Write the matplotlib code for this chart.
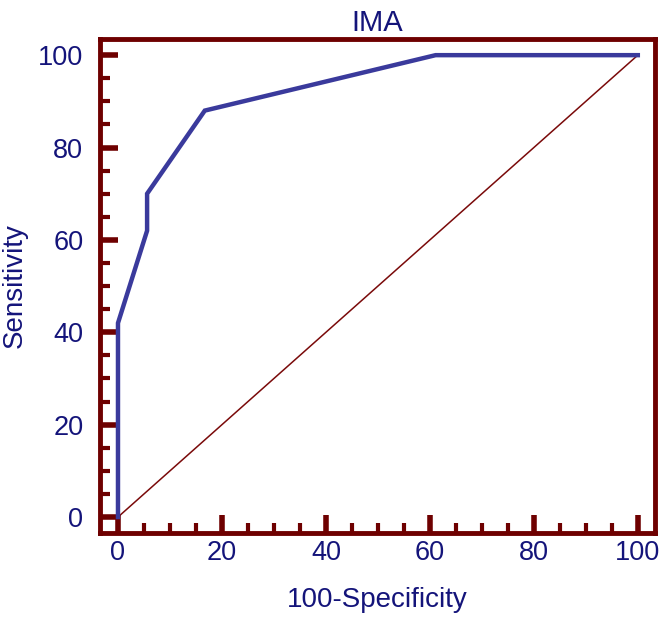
import matplotlib.pyplot as plt
from matplotlib.ticker import MultipleLocator

plt.rcParams['font.family'] = ['Liberation Sans', 'DejaVu Sans']

# ROC curve points (100-Specificity, Sensitivity)
fpr = [0, 0, 5.6, 5.6, 16.7, 61.1, 100]
tpr = [0, 42, 62, 70, 88, 100, 100]
diag_x = [0, 100]
diag_y = [0, 100]

frame_col = '#6e0000'
text_col = '#14147a'
roc_col = '#3a3a9c'

fig = plt.figure(figsize=(6.64, 6.17), dpi=100)
ax = fig.add_axes([0.1506, 0.1361, 0.8358, 0.8007])

ax.plot(diag_x, diag_y, color='#7a0a0a', lw=1.1)
ax.plot(fpr, tpr, color=roc_col, lw=3.2, solid_joinstyle='miter')

ax.set_xlim(-3.46, 103.3)
ax.set_ylim(-3.46, 103.5)

ax.xaxis.set_major_locator(MultipleLocator(20))
ax.xaxis.set_minor_locator(MultipleLocator(5))
ax.yaxis.set_major_locator(MultipleLocator(20))
ax.yaxis.set_minor_locator(MultipleLocator(5))

for s in ax.spines.values():
    s.set_color(frame_col)
    s.set_linewidth(3.5)

ax.tick_params(which='major', direction='in', length=13, width=4, color=frame_col,
               labelcolor=text_col, labelsize=19.5, top=False, right=False)
ax.tick_params(axis='y', which='major', pad=12)
ax.tick_params(axis='x', which='major', pad=5)
ax.tick_params(which='minor', direction='in', length=7.5, width=3, color=frame_col,
               top=False, right=False)

ax.set_title('IMA', color=text_col, fontsize=21, y=1.016, pad=0)
ax.set_xlabel('100-Specificity', color=text_col, fontsize=20, labelpad=15)
ax.set_ylabel('Sensitivity', color=text_col, fontsize=20)
# right edge of the rotated label sits ~28 px from the figure edge
ax.yaxis.set_label_coords(-0.13, 0.5)

fig.savefig('out.png', dpi=100)
